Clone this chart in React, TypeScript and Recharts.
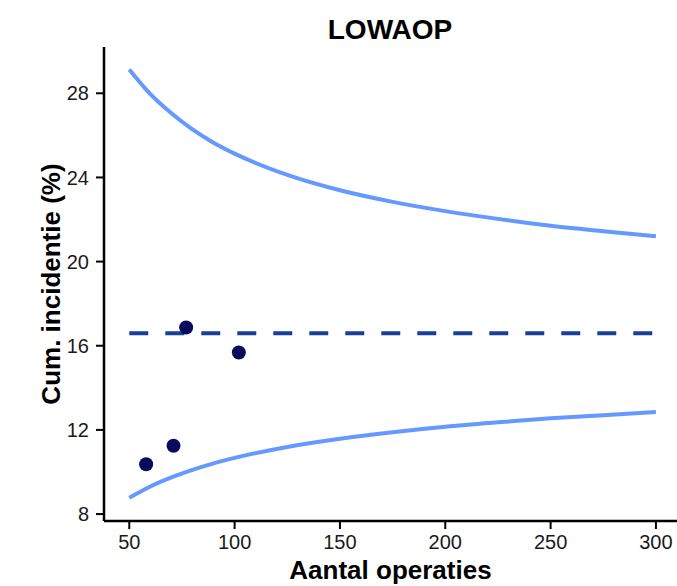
import React from "react";
import { ComposedChart, Line, Scatter, XAxis, YAxis, Label } from "recharts";

// funnel limits
const limitX = [50, 60, 70, 80, 90, 100, 125, 150, 175, 200, 225, 250, 275, 300];
const upperLimit = [29.13, 27.96, 27.05, 26.28, 25.65, 25.13, 24.12, 23.39, 22.84, 22.4, 22.03, 21.7, 21.44, 21.2];
const lowerLimit = [8.77, 9.31, 9.74, 10.1, 10.41, 10.67, 11.19, 11.58, 11.89, 12.15, 12.36, 12.55, 12.7, 12.85];

const meanRate = 16.6;
const meanRange = [50, 300];

const hospitalN = [58, 71, 77, 102];
const hospitalRate = [10.37, 11.25, 16.87, 15.68];

const xTicks = [50, 100, 150, 200, 250, 300];
const yTicks = [8, 12, 16, 20, 24, 28];

const upperData = limitX.map((x, i) => ({ x, y: upperLimit[i] }));
const lowerData = limitX.map((x, i) => ({ x, y: lowerLimit[i] }));
const meanData = meanRange.map((x) => ({ x, y: meanRate }));
const pointData = hospitalN.map((x, i) => ({ x, y: hospitalRate[i] }));

const FONT = "'Liberation Sans', Arial, sans-serif";
const tickStyle = { fontSize: 20, fill: "#1a1a1a", fontFamily: FONT };
const titleStyle = { fontFamily: FONT, fontSize: 26, fontWeight: 700, fill: "#000" };

export default function App() {
  return (
    <div style={{ position: "absolute", left: 0, top: 0, width: 677, height: 586, background: "#fff" }}>
      <div
        style={{
          position: "absolute",
          left: 104,
          width: 572,
          top: 16,
          lineHeight: 1,
          textAlign: "center",
          fontFamily: FONT,
          fontWeight: 700,
          fontSize: 28,
          color: "#000",
        }}
      >
        LOWAOP
      </div>
      <ComposedChart width={677} height={586} margin={{ top: 47, right: 0, bottom: 0, left: 44 }}>
        <XAxis
          type="number"
          dataKey="x"
          domain={[38, 310]}
          ticks={xTicks}
          allowDataOverflow
          height={65}
          tick={tickStyle}
          tickSize={8}
          tickMargin={6}
          axisLine={{ stroke: "#000", strokeWidth: 2.5 }}
          tickLine={{ stroke: "#000", strokeWidth: 2 }}
        >
          <Label value="Aantal operaties" position="insideBottom" offset={7} style={titleStyle} />
        </XAxis>
        <YAxis
          type="number"
          dataKey="y"
          domain={[7.67, 30.2]}
          ticks={yTicks}
          allowDataOverflow
          width={60}
          tick={tickStyle}
          tickSize={8}
          tickMargin={7}
          axisLine={{ stroke: "#000", strokeWidth: 2.5 }}
          tickLine={{ stroke: "#000", strokeWidth: 2 }}
        >
          <Label
            value="Cum. incidentie (%)"
            angle={-90}
            position="insideLeft"
            offset={7}
            style={{ ...titleStyle, textAnchor: "middle" }}
          />
        </YAxis>
        <Line data={upperData} dataKey="y" type="monotone" stroke="#6699ff" strokeWidth={4} dot={false} isAnimationActive={false} />
        <Line data={lowerData} dataKey="y" type="monotone" stroke="#6699ff" strokeWidth={4} dot={false} isAnimationActive={false} />
        <Line
          data={meanData}
          dataKey="y"
          type="linear"
          stroke="#1c3f9c"
          strokeWidth={4}
          strokeDasharray="19 17"
          dot={false}
          isAnimationActive={false}
        />
        <Scatter
          data={pointData}
          dataKey="y"
          fill="#0b0b5e"
          shape={(p: any) => <circle cx={p.cx} cy={p.cy} r={7} fill="#0b0b5e" />}
          isAnimationActive={false}
        />
      </ComposedChart>
    </div>
  );
}
